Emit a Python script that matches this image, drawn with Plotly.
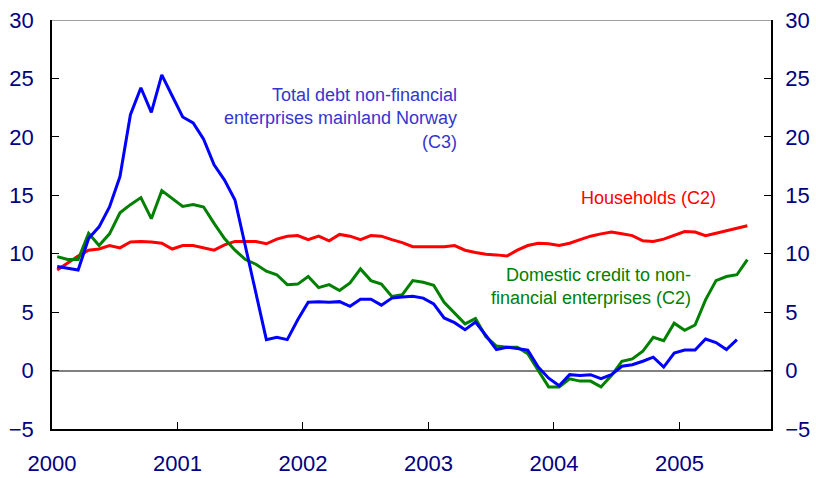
"""
Credit growth: households and non-financial enterprises, 12-month growth (%)
"""
import plotly.graph_objects as go

# Monthly observations, Jan 2000 onwards (plotted mid-month)
households = [8.6, 9.2, 9.8, 10.3, 10.4, 10.7, 10.5, 11.0, 11.05, 11.0, 10.9, 10.4,
              10.7, 10.7, 10.5, 10.3, 10.75, 11.05, 11.05, 11.05, 10.85, 11.25, 11.5, 11.55,
              11.2, 11.5, 11.1, 11.65, 11.5, 11.2, 11.55, 11.5, 11.2, 10.95, 10.6, 10.6,
              10.6, 10.6, 10.7, 10.3, 10.1, 9.95, 9.9, 9.8, 10.3, 10.7, 10.9, 10.85,
              10.7, 10.9, 11.2, 11.5, 11.7, 11.85, 11.7, 11.55, 11.1, 11.05, 11.25, 11.55,
              11.9, 11.85, 11.55, 11.75, 11.95, 12.2, 12.4]

domestic_credit = [9.75, 9.5, 9.5, 11.75, 10.7, 11.7, 13.5, 14.2, 14.8, 13.0, 15.4, 14.75,
                   14.05, 14.2, 14.0, 12.6, 11.3, 10.3, 9.5, 9.1, 8.5, 8.2, 7.35, 7.4,
                   8.05, 7.1, 7.35, 6.85, 7.5, 8.7, 7.7, 7.4, 6.35, 6.5, 7.7, 7.55,
                   7.3, 5.85, 4.9, 4.0, 4.45, 2.9, 2.1, 2.0, 2.0, 1.45, 0.0, -1.4,
                   -1.4, -0.7, -0.9, -0.9, -1.4, -0.43, 0.8, 1.0, 1.65, 2.85, 2.55, 4.05,
                   3.45, 3.9, 6.05, 7.7, 8.05, 8.2, 9.5]

total_debt = [8.9, 8.75, 8.6, 11.3, 12.3, 14.0, 16.6, 21.9, 24.2, 22.1, 25.3, 23.5,
              21.7, 21.2, 19.8, 17.6, 16.3, 14.6, 10.6, 6.6, 2.65, 2.85, 2.65, 4.35,
              5.85, 5.9, 5.85, 5.9, 5.5, 6.1, 6.1, 5.6, 6.2, 6.3, 6.35, 6.2,
              5.7, 4.5, 4.1, 3.5, 4.15, 3.0, 1.8, 2.0, 1.9, 1.75, 0.3, -0.65,
              -1.3, -0.35, -0.43, -0.35, -0.7, -0.35, 0.37, 0.5, 0.8, 1.15, 0.3, 1.5,
              1.75, 1.75, 2.7, 2.4, 1.8, 2.65]

years = [2000, 2001, 2002, 2003, 2004, 2005]
y_ticks = [-5, 0, 5, 10, 15, 20, 25, 30]


def month_positions(n):
    # decimal year at the middle of each month
    return [2000 + (i + 0.5) / 12 for i in range(n)]


TICK_FONT = dict(family="Liberation Sans, Arial", size=22, color="#000080")
X_RANGE = [2000, 2005.73]
Y_RANGE = [-5, 30]

fig = go.Figure()

fig.add_trace(go.Scatter(x=month_positions(len(households)), y=households,
                         mode="lines", line=dict(color="#FF0000", width=3),
                         name="Households (C2)"))
fig.add_trace(go.Scatter(x=month_positions(len(domestic_credit)), y=domestic_credit,
                         mode="lines", line=dict(color="#008000", width=3),
                         name="Domestic credit to non-financial enterprises (C2)"))
fig.add_trace(go.Scatter(x=month_positions(len(total_debt)), y=total_debt,
                         mode="lines", line=dict(color="#0000FF", width=3),
                         name="Total debt non-financial enterprises mainland Norway (C3)"))

# invisible trace to carry the right-hand axis
fig.add_trace(go.Scatter(x=[X_RANGE[0]], y=[Y_RANGE[0]], yaxis="y2", mode="lines",
                         line=dict(width=0), showlegend=False, hoverinfo="skip"))

annot_font = dict(family="Liberation Sans, Arial", size=18)
fig.add_annotation(x=2003.24, y=21.6, xanchor="right", yanchor="middle", align="right",
                   text="Total debt non-financial<br>enterprises mainland Norway<br>(C3)",
                   showarrow=False, font=dict(annot_font, color="#3535D0"))
fig.add_annotation(x=2004.75, y=14.8, xanchor="center", yanchor="middle",
                   text="Households (C2)", showarrow=False,
                   font=dict(annot_font, color="#FF0000"))
fig.add_annotation(x=2005.11, y=7.2, xanchor="right", yanchor="middle", align="right",
                   text="Domestic credit to non-<br>financial enterprises (C2)",
                   showarrow=False, font=dict(annot_font, color="#008000"))

# gray line along the top of the plot area
fig.add_shape(type="line", xref="paper", x0=0, x1=1, yref="y", y0=30, y1=30,
              line=dict(color="#808080", width=1.5), layer="below")

fig.update_layout(
    width=816, height=478,
    margin=dict(l=52, r=45, t=20, b=49),
    paper_bgcolor="white", plot_bgcolor="white",
    showlegend=False,
    xaxis=dict(range=X_RANGE, tickvals=years, ticktext=[str(y) for y in years],
               ticks="inside", ticklen=7, tickcolor="black", tickwidth=1,
               showline=True, linecolor="black", linewidth=2,
               showgrid=False, zeroline=False, tickfont=TICK_FONT,
               ticklabelstandoff=14, automargin=False),
    yaxis=dict(range=Y_RANGE, tickvals=y_ticks, ticks="inside", ticklen=7,
               tickcolor="black", showline=True, linecolor="black", linewidth=1.5,
               showgrid=False, zeroline=True, zerolinecolor="#808080", zerolinewidth=1.5,
               tickfont=TICK_FONT, ticklabelstandoff=12, automargin=False),
    yaxis2=dict(range=Y_RANGE, tickvals=y_ticks, overlaying="y", side="right",
                ticks="inside", ticklen=7, tickcolor="black", showline=True,
                linecolor="black", linewidth=1.5, showgrid=False, zeroline=False,
                tickfont=TICK_FONT, ticklabelstandoff=8, automargin=False),
)

# drop the default page margin so the figure fills the window exactly
fig.write_html("out.html", config={"displayModeBar": False},
               post_script="document.body.style.margin = '0px';")
